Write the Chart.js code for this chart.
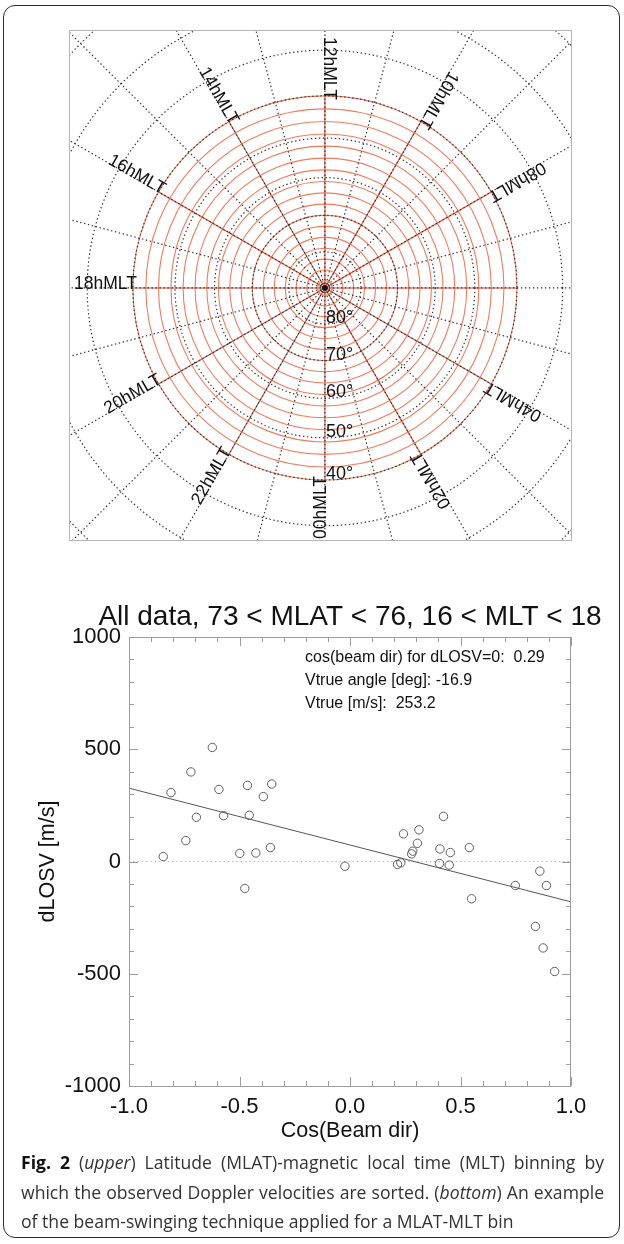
<!DOCTYPE html>
<html>
<head>
<meta charset="utf-8">
<script src="https://cdn.jsdelivr.net/npm/chart.js@4.4.0/dist/chart.umd.min.js"></script>
<style>
  html, body { margin: 0; padding: 0; background: #fff; }
  #page { position: relative; width: 624px; height: 1244px; overflow: hidden; }
  #frame { position: absolute; left: 3px; top: 5px; width: 615px; height: 1231px;
           border: 1.6px solid #2a2a2a; border-radius: 12px; }
  #polar { position: absolute; left: 64px; top: 25px; }
  #scatter { position: absolute; left: 0; top: 590px; }
  #caption { position: absolute; left: 21px; top: 1148px; width: 583px; font-family: "Open Sans", sans-serif;
             font-size: 17.6px; line-height: 29.5px; color: #333; }
  #caption div { white-space: nowrap; }
  #caption .j { text-align: justify; text-align-last: justify; }
  #caption b { color: #111; }
</style>
</head>
<body>
<div id="page">
  <div id="frame"></div>
  <canvas id="polar" width="513" height="521"></canvas>
  <canvas id="scatter" width="624" height="560"></canvas>
  <div id="caption">
    <div class="j"><b>Fig. 2</b> (<i>upper</i>) Latitude (MLAT)-magnetic local time (MLT) binning by</div>
    <div class="j">which the observed Doppler velocities are sorted. (<i>bottom</i>) An example</div>
    <div>of the beam-swinging technique applied for a MLAT-MLT bin</div>
  </div>
</div>
<script>
  // ---- upper panel: MLAT / MLT bins ----
  const mltDotted     = [0,1,2,3,4,5,6,7,8,9,10,11,12,13,14,15,16,17,18,19,20,21,22,23];
  const mltBinEdges   = [0,2,4,6,8,10,12,14,16,18,20,22];
  const mltLabelHours = [12,14,16,18,20,22,0,2,4,8,10];
  const latDotted     = [80,70,60,50,40,30,20,10,0,-10];
  const latBinEdges   = [40,43,46,49,52,55,58,61,64,67,70,73,76,79,82,85,88];
  const latLabels     = [80,70,60,50,40];

  // ---- lower panel: beam swinging fit ----
  const cosBeam = [-0.845,-0.81,-0.743,-0.72,-0.695,-0.623,-0.593,-0.572,-0.499,-0.476,-0.464,-0.456,
                   -0.426,-0.392,-0.36,-0.354,-0.023,0.215,0.23,0.242,0.279,0.284,0.305,0.312,0.407,
                   0.405,0.423,0.449,0.454,0.54,0.55,0.748,0.859,0.889,0.839,0.874,0.926];
  const dLosv   = [22,307,93,399,197,508,321,204,36,-120,339,206,38,289,62,345,-21,-13,-6,123,34,46,
                   81,141,56,-9,201,-16,40,62,-166,-107,-43,-107,-289,-385,-490];
  const fitZeroCos = 0.29;     // cos(beam dir) for dLOSV=0
  const fitSlope   = -253.2;   // m/s per unit cos
  const annotation = ['cos(beam dir) for dLOSV=0:  0.29', 'Vtrue angle [deg]: -16.9', 'Vtrue [m/s]:  253.2'];
  const xTicks = [-1, -0.5, 0, 0.5, 1];
  const yTicks = [-1000, -500, 0, 500, 1000];

  const SANS = '"Liberation Sans", Arial, Helvetica, sans-serif';
  const rad = d => d * Math.PI / 180;
  const rho = lat => Math.tan(rad((90 - lat) / 2));   // polar stereographic
  const theta = h => rad((h - 6) * 15);                // 12h up, 18h left

  const polarGrid = {
    id: 'polarGrid',
    beforeDatasetsDraw(chart) {
      const { ctx, chartArea: a } = chart;
      const xs = chart.scales.x, ys = chart.scales.y;
      const cx = xs.getPixelForValue(0), cy = ys.getPixelForValue(0);
      const rpx = lat => xs.getPixelForValue(rho(lat)) - cx;
      const pt = (lat, h) => [xs.getPixelForValue(rho(lat) * Math.cos(theta(h))),
                              ys.getPixelForValue(rho(lat) * Math.sin(theta(h)))];
      ctx.save();
      ctx.beginPath(); ctx.rect(a.left, a.top, a.right - a.left, a.bottom - a.top); ctx.clip();

      // red bin circles + bin meridians
      ctx.strokeStyle = '#f07c5e'; ctx.lineWidth = 1.1;
      latBinEdges.forEach(lat => { ctx.beginPath(); ctx.arc(cx, cy, rpx(lat), 0, Math.PI * 2); ctx.stroke(); });
      ctx.strokeStyle = '#dc4a32';
      mltBinEdges.forEach(h => {
        const [x, y] = pt(latBinEdges[0], h);
        ctx.beginPath(); ctx.moveTo(cx, cy); ctx.lineTo(x, y); ctx.stroke();
      });

      // dotted grid
      ctx.strokeStyle = '#333'; ctx.lineWidth = 1.2; ctx.setLineDash([1.4, 2.6]);
      latDotted.forEach(lat => { ctx.beginPath(); ctx.arc(cx, cy, rpx(lat), 0, Math.PI * 2); ctx.stroke(); });
      mltDotted.forEach(h => {
        const [x, y] = pt(-60, h);
        ctx.beginPath(); ctx.moveTo(cx, cy); ctx.lineTo(x, y); ctx.stroke();
      });
      ctx.setLineDash([]);

      // MLT labels, reading toward the pole
      ctx.fillStyle = '#111'; ctx.font = '17.5px ' + SANS;
      ctx.textAlign = 'right'; ctx.textBaseline = 'middle';
      const rEnd = rpx(40) - 4;
      mltLabelHours.forEach(h => {
        const t = theta(h);
        const x = cx + rEnd * Math.cos(t), y = cy - rEnd * Math.sin(t);
        ctx.save(); ctx.translate(x, y); ctx.rotate(Math.atan2(Math.sin(t), -Math.cos(t)));
        ctx.fillText(String(h).padStart(2, '0') + 'hMLT', 0, -4);
        ctx.restore();
      });
      // latitude labels
      ctx.font = '18px ' + SANS; ctx.textAlign = 'left';
      latLabels.forEach(lat => ctx.fillText(lat + '\u00b0', cx + 1, cy + rpx(lat) - 6));
      ctx.restore();

      ctx.strokeStyle = '#b5b5b5'; ctx.lineWidth = 1;
      ctx.strokeRect(a.left + 0.5, a.top + 0.5, a.right - a.left - 1, a.bottom - a.top - 1);
    }
  };

  new Chart(document.getElementById('polar'), {
    type: 'scatter',
    data: { datasets: [{ data: [{ x: 0, y: 0 }], pointRadius: 2.5, backgroundColor: '#111', borderColor: '#111' }] },
    options: {
      responsive: false, animation: false,
      layout: { padding: 0 },
      plugins: { legend: { display: false }, tooltip: { enabled: false } },
      scales: {
        x: { type: 'linear', display: false, min: -0.6214, max: 0.6 },
        y: { type: 'linear', display: false, min: -0.6143, max: 0.6262 }
      }
    },
    plugins: [polarGrid]
  });

  // IDL-style box with inward ticks, title and fit annotation
  const idlBox = {
    id: 'idlBox',
    afterDatasetsDraw(chart) {
      const { ctx, chartArea: a } = chart;
      const xs = chart.scales.x, ys = chart.scales.y;
      ctx.save();
      ctx.strokeStyle = '#9c9c9c'; ctx.lineWidth = 1;
      ctx.strokeRect(a.left + 0.5, a.top + 0.5, a.right - a.left - 1, a.bottom - a.top);
      ctx.beginPath();
      for (let i = -10; i <= 10; i++) {
        const x = Math.round(xs.getPixelForValue(i / 10)) + 0.5, len = i % 5 === 0 ? 9 : 5;
        ctx.moveTo(x, a.bottom); ctx.lineTo(x, a.bottom - len);
        ctx.moveTo(x, a.top); ctx.lineTo(x, a.top + len);
      }
      for (let i = -10; i <= 10; i++) {
        const y = Math.round(ys.getPixelForValue(i * 100)) + 0.5, len = i % 5 === 0 ? 9 : 5;
        ctx.moveTo(a.left, y); ctx.lineTo(a.left + len, y);
        ctx.moveTo(a.right, y); ctx.lineTo(a.right - len, y);
      }
      ctx.stroke();

      ctx.fillStyle = '#111'; ctx.textBaseline = 'alphabetic';
      ctx.font = '28px ' + SANS; ctx.textAlign = 'center';
      ctx.fillText('All data, 73 < MLAT < 76, 16 < MLT < 18', (a.left + a.right) / 2, a.top - 12);
      ctx.font = '16px ' + SANS; ctx.textAlign = 'left';
      annotation.forEach((s, i) => ctx.fillText(s, 305, a.top + 25 + i * 23));
      ctx.restore();
    }
  };

  const fitIntercept = -fitSlope * fitZeroCos;
  new Chart(document.getElementById('scatter'), {
    type: 'scatter',
    data: {
      datasets: [
        { data: cosBeam.map((x, i) => ({ x, y: dLosv[i] })), pointStyle: 'circle', pointRadius: 4.2,
          backgroundColor: 'rgba(0,0,0,0)', borderColor: '#5e5e5e', borderWidth: 1, pointHoverRadius: 4.2 },
        { type: 'line', data: [-1, 1].map(x => ({ x, y: fitIntercept + fitSlope * x })),
          borderColor: '#555', borderWidth: 1, pointRadius: 0, fill: false },
        { type: 'line', data: [{ x: -1, y: 0 }, { x: 1, y: 0 }],
          borderColor: '#b0b0b0', borderWidth: 1, borderDash: [1.3, 3], pointRadius: 0, fill: false }
      ]
    },
    options: {
      responsive: false, animation: false,
      layout: { padding: { left: 0, right: 53, top: 47, bottom: 0 } },
      plugins: { legend: { display: false }, tooltip: { enabled: false } },
      scales: {
        x: {
          type: 'linear', min: -1, max: 1,
          afterBuildTicks: s => { s.ticks = xTicks.map(v => ({ value: v })); },
          afterFit: s => { s.height = 64; },
          ticks: { callback: v => v.toFixed(1), color: '#111', padding: 8, font: { family: SANS, size: 22 } },
          grid: { display: false, drawTicks: false }, border: { display: false },
          title: { display: true, text: 'Cos(Beam dir)', color: '#111', padding: { top: 0, bottom: 6 },
                   font: { family: SANS, size: 21.5 } }
        },
        y: {
          type: 'linear', min: -1000, max: 1000,
          afterBuildTicks: s => { s.ticks = yTicks.map(v => ({ value: v })); },
          afterFit: s => { s.width = 129; },
          ticks: { callback: v => String(v), color: '#111', padding: 8, font: { family: SANS, size: 22 } },
          grid: { display: false, drawTicks: false }, border: { display: false },
          title: { display: true, text: 'dLOSV [m/s]', color: '#111', padding: { top: 35, bottom: 0 },
                   font: { family: SANS, size: 21.5 } }
        }
      }
    },
    plugins: [idlBox]
  });
</script>
</body>
</html>
